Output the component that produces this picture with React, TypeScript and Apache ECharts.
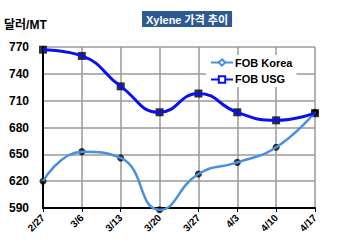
import React, { useEffect, useRef } from "react";
import * as echarts from "echarts";

const categories = ["2/27", "3/6", "3/13", "3/20", "3/27", "4/3", "4/10", "4/17"];
const fobKorea = [620, 653, 646, 588, 628, 641, 658, 697];
const fobUSG = [767, 760, 726, 697, 718, 697, 688, 696];
const yTicks = { min: 590, max: 770, interval: 30 };

const FONT = "'Liberation Sans', Arial, 'Noto Sans CJK KR', sans-serif";

export default function App() {
  const ref = useRef<HTMLDivElement>(null);
  useEffect(() => {
    if (!ref.current) return;
    const chart = echarts.init(ref.current, undefined, { renderer: "svg" });
    chart.setOption({
      animation: false,
      backgroundColor: "#ffffff",
      title: {
        text: "Xylene 가격 추이",
        left: 142,
        top: 11,
        backgroundColor: "#2e5a94",
        padding: [3, 4, 2, 4],
        textStyle: { color: "#ffffff", fontSize: 11, fontWeight: "bold", fontFamily: FONT },
      },
      graphic: [
        {
          type: "text",
          left: 4,
          top: 19,
          style: { text: "달러/MT", fontSize: 12, fontWeight: "bold", fill: "#000", fontFamily: FONT },
        },
      ],
      legend: {
        orient: "vertical",
        left: 206,
        top: 55,
        itemWidth: 22,
        itemHeight: 8,
        itemGap: 6,
        backgroundColor: "#ffffff",
        padding: [2, 4, 2, 4],
        textStyle: { fontSize: 11, fontWeight: "bold", color: "#000", fontFamily: FONT, padding: [0, 0, 0, -3] },
        data: ["FOB Korea", "FOB USG"],
      },
      grid: { left: 43, right: 35, top: 47, bottom: 44 },
      xAxis: {
        type: "category",
        data: categories,
        boundaryGap: false,
        axisLine: { show: true, lineStyle: { color: "#000", width: 2 } },
        axisTick: { show: true, length: 4, lineStyle: { color: "#000", width: 1 } },
        splitLine: { show: true, lineStyle: { color: "#9a9a9a", width: 1.5 } },
        axisLabel: {
          rotate: 45,
          fontSize: 10,
          fontWeight: "bold",
          color: "#000",
          fontFamily: FONT,
          margin: 8,
        },
      },
      yAxis: {
        type: "value",
        min: yTicks.min,
        max: yTicks.max,
        interval: yTicks.interval,
        axisLine: { show: true, lineStyle: { color: "#000", width: 2 } },
        axisTick: { show: false },
        splitLine: { show: true, lineStyle: { color: "#9a9a9a", width: 1.5 } },
        axisLabel: { fontSize: 12, fontWeight: "bold", color: "#000", fontFamily: FONT, margin: 14 },
      },
      series: [
        {
          name: "FOB Korea",
          type: "line",
          data: fobKorea,
          smooth: 0.5,
          clip: false,
          symbol: "emptyDiamond",
          symbolSize: 6,
          showSymbol: false,
          lineStyle: { color: "#4a8ee0", width: 2.5 },
          itemStyle: { color: "#4a8ee0", borderColor: "#4a8ee0" },
          z: 3,
        },
        {
          name: "FOB USG",
          type: "line",
          data: fobUSG,
          smooth: 0.5,
          clip: false,
          symbol: "emptyRect",
          symbolSize: 7,
          showSymbol: false,
          lineStyle: { color: "#0a10f0", width: 3 },
          itemStyle: { color: "#0a10f0", borderColor: "#0a10f0" },
          z: 3,
        },
        {
          name: "KoreaPts",
          type: "scatter",
          data: fobKorea,
          clip: false,
          symbol: "circle",
          symbolSize: 7,
          itemStyle: { color: "#000" },
          z: 2,
        },
        {
          name: "USGPts",
          type: "scatter",
          data: fobUSG,
          clip: false,
          symbol: "rect",
          symbolSize: 8,
          itemStyle: { color: "#000" },
          z: 2,
        },
      ],
    });
    return () => chart.dispose();
  }, []);
  return (
    <div
      ref={ref}
      style={{ position: "fixed", left: 0, top: 0, width: 350, height: 252 }}
    />
  );
}
